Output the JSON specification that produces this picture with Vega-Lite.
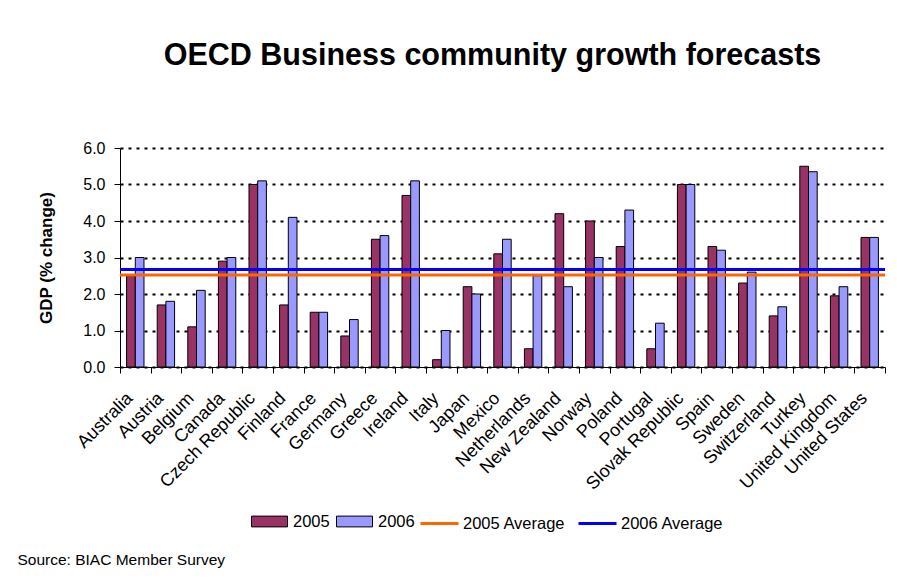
{
  "$schema": "https://vega.github.io/schema/vega-lite/v6.json",
  "width": 765,
  "height": 219,
  "autosize": "none",
  "padding": {"left": 120, "top": 148, "right": 12, "bottom": 212},
  "background": "white",
  "config": {
    "font": "Liberation Sans",
    "view": {"stroke": null},
    "axisY": {
      "title": "GDP (% change)",
      "titleFontSize": 17,
      "titleFontWeight": "bold",
      "titleColor": "black",
      "titlePadding": 27,
      "values": [0, 1, 2, 3, 4, 5, 6],
      "format": ".1f",
      "labelOverlap": false,
      "labelFontSize": 16,
      "labelColor": "black",
      "labelPadding": 9,
      "tickColor": "black",
      "tickSize": 6,
      "domainColor": "black",
      "grid": true,
      "gridColor": "black",
      "gridWidth": 2,
      "gridDash": [3, 5]
    }
  },
  "title": {
    "text": "OECD Business community growth forecasts",
    "fontSize": 30.5,
    "fontWeight": "bold",
    "font": "Liberation Sans",
    "color": "black",
    "anchor": "middle",
    "offset": 69,
    "dx": -10
  },
  "datasets": {
    "bars": [
      {"country": "Australia", "year": "2005", "gdp": 2.5}, {"country": "Australia", "year": "2006", "gdp": 3.0},
      {"country": "Austria", "year": "2005", "gdp": 1.7}, {"country": "Austria", "year": "2006", "gdp": 1.8},
      {"country": "Belgium", "year": "2005", "gdp": 1.1}, {"country": "Belgium", "year": "2006", "gdp": 2.1},
      {"country": "Canada", "year": "2005", "gdp": 2.9}, {"country": "Canada", "year": "2006", "gdp": 3.0},
      {"country": "Czech Republic", "year": "2005", "gdp": 5.0}, {"country": "Czech Republic", "year": "2006", "gdp": 5.1},
      {"country": "Finland", "year": "2005", "gdp": 1.7}, {"country": "Finland", "year": "2006", "gdp": 4.1},
      {"country": "France", "year": "2005", "gdp": 1.5}, {"country": "France", "year": "2006", "gdp": 1.5},
      {"country": "Germany", "year": "2005", "gdp": 0.85}, {"country": "Germany", "year": "2006", "gdp": 1.3},
      {"country": "Greece", "year": "2005", "gdp": 3.5}, {"country": "Greece", "year": "2006", "gdp": 3.6},
      {"country": "Ireland", "year": "2005", "gdp": 4.7}, {"country": "Ireland", "year": "2006", "gdp": 5.1},
      {"country": "Italy", "year": "2005", "gdp": 0.2}, {"country": "Italy", "year": "2006", "gdp": 1.0},
      {"country": "Japan", "year": "2005", "gdp": 2.2}, {"country": "Japan", "year": "2006", "gdp": 2.0},
      {"country": "Mexico", "year": "2005", "gdp": 3.1}, {"country": "Mexico", "year": "2006", "gdp": 3.5},
      {"country": "Netherlands", "year": "2005", "gdp": 0.5}, {"country": "Netherlands", "year": "2006", "gdp": 2.5},
      {"country": "New Zealand", "year": "2005", "gdp": 4.2}, {"country": "New Zealand", "year": "2006", "gdp": 2.2},
      {"country": "Norway", "year": "2005", "gdp": 4.0}, {"country": "Norway", "year": "2006", "gdp": 3.0},
      {"country": "Poland", "year": "2005", "gdp": 3.3}, {"country": "Poland", "year": "2006", "gdp": 4.3},
      {"country": "Portugal", "year": "2005", "gdp": 0.5}, {"country": "Portugal", "year": "2006", "gdp": 1.2},
      {"country": "Slovak Republic", "year": "2005", "gdp": 5.0}, {"country": "Slovak Republic", "year": "2006", "gdp": 5.0},
      {"country": "Spain", "year": "2005", "gdp": 3.3}, {"country": "Spain", "year": "2006", "gdp": 3.2},
      {"country": "Sweden", "year": "2005", "gdp": 2.3}, {"country": "Sweden", "year": "2006", "gdp": 2.6},
      {"country": "Switzerland", "year": "2005", "gdp": 1.4}, {"country": "Switzerland", "year": "2006", "gdp": 1.65},
      {"country": "Turkey", "year": "2005", "gdp": 5.5}, {"country": "Turkey", "year": "2006", "gdp": 5.35},
      {"country": "United Kingdom", "year": "2005", "gdp": 1.95}, {"country": "United Kingdom", "year": "2006", "gdp": 2.2},
      {"country": "United States", "year": "2005", "gdp": 3.55}, {"country": "United States", "year": "2006", "gdp": 3.55}
    ],
    "averages": [
      {"series": "2005 Average", "avg": 2.52},
      {"series": "2006 Average", "avg": 2.67}
    ]
  },
  "layer": [
    {
      "data": {"name": "bars"},
      "mark": {"type": "bar", "stroke": "black", "strokeWidth": 1},
      "encoding": {
        "x": {
          "field": "country",
          "type": "nominal",
          "sort": null,
          "scale": {"paddingInner": 0, "paddingOuter": 0},
          "axis": {
            "title": "Source: BIAC Member Survey",
            "titleFont": "Liberation Sans",
            "titleFontSize": 15.5,
            "titleFontWeight": "normal",
            "titleColor": "black",
            "titleAnchor": "start",
            "titleAlign": "left",
            "titleBaseline": "alphabetic",
            "titleAngle": 0,
            "titleX": -103,
            "titleY": 197,
            "labelAngle": -45,
            "labelFontSize": 18,
            "labelColor": "black",
            "labelPadding": 16,
            "labelOffset": -12,
            "labelOverlap": false,
            "tickBand": "extent",
            "tickColor": "black",
            "tickSize": 6,
            "domainColor": "black",
            "domainWidth": 1,
            "grid": false
          }
        },
        "xOffset": {
          "field": "year",
          "type": "nominal",
          "scale": {"paddingInner": 0, "paddingOuter": 0.76}
        },
        "y": {
          "field": "gdp",
          "type": "quantitative",
          "scale": {"domain": [0, 6]},
          "title": "GDP (% change)"
        },
        "fill": {
          "field": "year",
          "type": "nominal",
          "scale": {"domain": ["2005", "2006"], "range": ["#993366", "#9999FF"]},
          "legend": {
            "title": null,
            "orient": "none",
            "direction": "horizontal",
            "legendX": 131,
            "legendY": 355,
            "padding": 0,
            "symbolType": "M-1,-0.3H1V0.3H-1Z",
            "symbolSize": 1296,
            "symbolStrokeColor": "black",
            "symbolStrokeWidth": 1,
            "labelFontSize": 16.5,
            "labelColor": "black",
            "labelOffset": 5,
            "columnPadding": 4
          }
        }
      }
    },
    {
      "data": {"name": "averages"},
      "mark": {"type": "rule", "strokeWidth": 3},
      "encoding": {
        "y": {"field": "avg", "type": "quantitative", "title": "GDP (% change)"},
        "stroke": {
          "field": "series",
          "type": "nominal",
          "scale": {"domain": ["2005 Average", "2006 Average"], "range": ["#FF6600", "#0000FF"]},
          "legend": {
            "title": null,
            "orient": "none",
            "direction": "horizontal",
            "legendX": 299,
            "legendY": 355,
            "padding": 0,
            "symbolType": "stroke",
            "symbolSize": 1444,
            "symbolStrokeWidth": 3,
            "labelFontSize": 16.5,
            "labelColor": "black",
            "labelOffset": 3,
            "columnPadding": 6
          }
        }
      }
    }
  ]
}
